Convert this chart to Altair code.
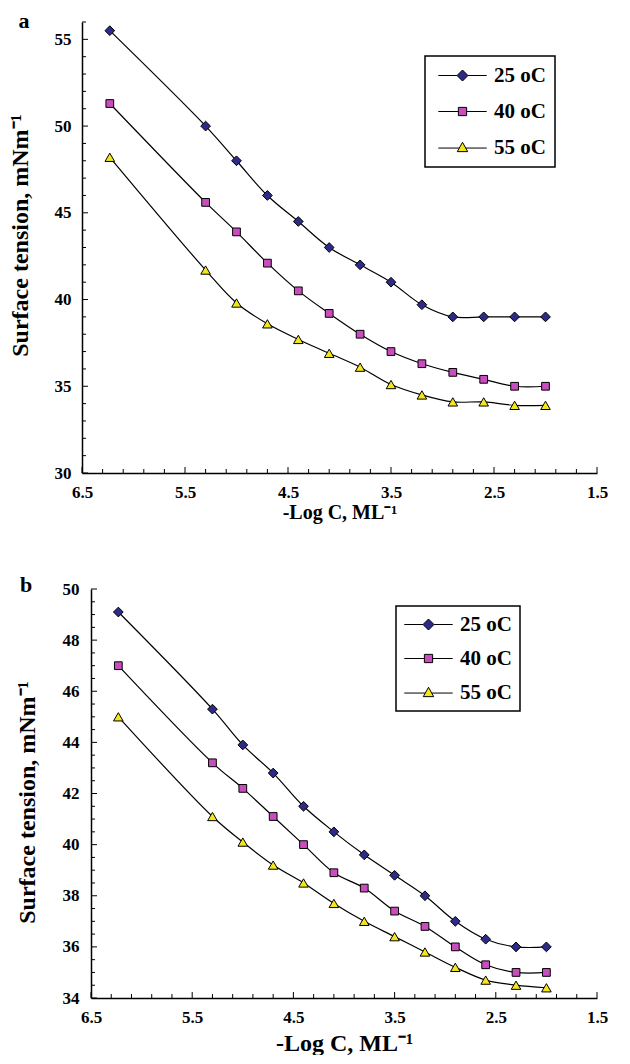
import altair as alt
import pandas as pd

# ---------------- data ----------------
x_logc = [6.23, 5.3, 5.0, 4.7, 4.4, 4.1, 3.8, 3.5, 3.2, 2.9, 2.6, 2.3, 2.0]
series_names = ["25 oC", "40 oC", "55 oC"]

a_25 = [55.5, 50.0, 48.0, 46.0, 44.5, 43.0, 42.0, 41.0, 39.7, 39.0, 39.0, 39.0, 39.0]
a_40 = [51.3, 45.6, 43.9, 42.1, 40.5, 39.2, 38.0, 37.0, 36.3, 35.8, 35.4, 35.0, 35.0]
a_55 = [48.2, 41.7, 39.8, 38.6, 37.7, 36.9, 36.1, 35.1, 34.5, 34.1, 34.1, 33.9, 33.9]

b_25 = [49.1, 45.3, 43.9, 42.8, 41.5, 40.5, 39.6, 38.8, 38.0, 37.0, 36.3, 36.0, 36.0]
b_40 = [47.0, 43.2, 42.2, 41.1, 40.0, 38.9, 38.3, 37.4, 36.8, 36.0, 35.3, 35.0, 35.0]
b_55 = [45.0, 41.1, 40.1, 39.2, 38.5, 37.7, 37.0, 36.4, 35.8, 35.2, 34.7, 34.5, 34.4]

x_major = [6.5, 5.5, 4.5, 3.5, 2.5, 1.5]
x_minor = [6.3, 6.1, 5.9, 5.7, 5.3, 5.1, 4.9, 4.7, 4.3, 4.1, 3.9, 3.7,
           3.3, 3.1, 2.9, 2.7, 2.3, 2.1, 1.9, 1.7]
a_y_major = [30, 35, 40, 45, 50, 55]
a_y_minor = [31, 32, 33, 34, 36, 37, 38, 39, 41, 42, 43, 44, 46, 47, 48, 49,
             51, 52, 53, 54, 56]
b_y_major = [34, 36, 38, 40, 42, 44, 46, 48, 50]
b_y_minor = [34.5, 35, 35.5, 36.5, 37, 37.5, 38.5, 39, 39.5, 40.5, 41, 41.5,
             42.5, 43, 43.5, 44.5, 45, 45.5, 46.5, 47, 47.5, 48.5, 49, 49.5]

x_title = "-Log C, ML⁻¹"
y_title = "Surface tension, mNm⁻¹"

# ---------------- style ----------------
FONT = "Liberation Serif"
marker_fill = ["#2E2A88", "#C94DBE", "#F4E61C"]
marker_shape = ["diamond", "square", "triangle-up"]
marker_size = [95, 60, 92]
legend_shape = [
    "M-4.4,0H-1M1,0H4.4M0,-1L1,0L0,1L-1,0Z",
    "M-4.4,0H-0.75M0.75,0H4.4M-0.75,-0.75H0.75V0.75H-0.75Z",
    "M-4.4,0.1H-0.59M0.59,0.1H4.4M0,-0.95L0.95,0.75H-0.95Z",
]


def make_panel(letter, series_vals, ydom, ymaj, ymin, P):
    W, H, L = P["W"], P["H"], P["left"]
    rows = []
    for name, vals in zip(series_names, series_vals):
        for xv, yv in zip(x_logc, vals):
            rows.append({"x": xv, "y": yv, "series": name})
    df = pd.DataFrame(rows)

    xsc = alt.Scale(domain=[6.5, 1.5], range=[L, W], nice=False, zero=False)
    ysc = alt.Scale(domain=ydom, nice=False, zero=False)

    xaxis = alt.Axis(values=x_major, format=".1f", ticks=False, grid=False,
                     domainColor="black", domainWidth=1.5,
                     labelFont=FONT, labelFontWeight="bold", labelFontSize=P["tick_fs"],
                     labelColor="black", labelPadding=P["xlabpad"], labelFlush=False,
                     labelOverlap=False, title=x_title, titleFont=FONT,
                     titleFontWeight="bold", titleFontSize=P["xtitle_fs"],
                     titleColor="black", titlePadding=P["xtitlepad"])
    yaxis = alt.Axis(values=ymaj, format="d", ticks=False, grid=False,
                     domainColor="black", domainWidth=1.5, offset=-L,
                     labelFont=FONT, labelFontWeight="bold", labelFontSize=P["tick_fs"],
                     labelColor="black", labelPadding=P["ylabpad"], labelFlush=False,
                     labelOverlap=False, title=y_title, titleFont=FONT,
                     titleFontWeight="bold", titleFontSize=P["ytitle_fs"],
                     titleColor="black", titlePadding=P["ytitlepad"],
                     titleY=P["titleY"])

    X = lambda f: alt.X(f, scale=xsc, axis=xaxis)
    Y = lambda f: alt.Y(f, scale=ysc, axis=yaxis)

    lines = alt.Chart(df).mark_line(color="black", strokeWidth=1.2,
                                    interpolate="catmull-rom").encode(
        x=X("x:Q"), y=Y("y:Q"), detail="series:N")

    def vtick(vals, length):
        return alt.Chart(pd.DataFrame({"v": vals})).mark_rule(
            color="black", strokeWidth=1).encode(
            x=X("v:Q"), y=alt.value(H), y2=alt.value(H - length))

    def htick(vals, length):
        return alt.Chart(pd.DataFrame({"v": vals})).mark_rule(
            color="black", strokeWidth=1).encode(
            y=Y("v:Q"), x=alt.value(L), x2=alt.value(L + length))

    marker_layers = []
    for name, shp, fc, sz in zip(series_names, marker_shape, marker_fill, marker_size):
        marker_layers.append(
            alt.Chart(df).transform_filter(alt.datum.series == name).mark_point(
                shape=shp, fill=fc, stroke="black", strokeWidth=1, size=sz,
                opacity=1, fillOpacity=1, strokeOpacity=1).encode(
                x=X("x:Q"), y=Y("y:Q")))

    leg = alt.Legend(title=None, orient="none", legendX=P["legX"], legendY=P["legY"],
                     strokeColor="black", fillColor="white",
                     padding=P["legpad"], rowPadding=P["rowpad"],
                     symbolSize=121, symbolOffset=P["symoff"], labelOffset=P["laboff"],
                     symbolOpacity=1, symbolStrokeWidth=1,
                     labelFont=FONT, labelFontWeight="bold", labelFontSize=P["leg_fs"],
                     labelColor="black")
    carrier = alt.Chart(df).mark_point(opacity=0, strokeWidth=1).encode(
        x=X("x:Q"), y=Y("y:Q"),
        fill=alt.Fill("series:N", scale=alt.Scale(domain=series_names, range=marker_fill),
                      legend=leg),
        stroke=alt.Stroke("series:N",
                          scale=alt.Scale(domain=series_names, range=["black"] * 3),
                          legend=leg),
        shape=alt.Shape("series:N", scale=alt.Scale(domain=series_names, range=legend_shape),
                        legend=leg),
    )

    label = alt.Chart(pd.DataFrame({"t": [letter]})).mark_text(
        font=FONT, fontWeight="bold", fontSize=P["letter_fs"], color="black",
        align="center", baseline="alphabetic").encode(
        text="t:N", x=alt.value(P["letX"]), y=alt.value(P["letY"]))

    anchor = alt.Chart(pd.DataFrame({"t": [letter]})).mark_rule(
        strokeOpacity=0, strokeWidth=1).encode(
        x=alt.value(P["ancX"]), y=alt.value(P["ancY"]), y2=alt.value(P["ancY2"]))

    ch = alt.layer(
        lines,
        vtick(x_major, 6), vtick(x_minor, 4),
        htick(ymaj, 6), htick(ymin, 4),
        *marker_layers, carrier, label, anchor,
    ).properties(width=W, height=H)
    return ch


Pa = dict(W=515, H=451, left=0, tick_fs=17, xlabpad=11, xtitle_fs=20, xtitlepad=2,
          ylabpad=11, ytitle_fs=24, ytitlepad=22, titleY=213,
          legX=343, legY=34, legpad=9, rowpad=14, symoff=18, laboff=21, leg_fs=21,
          letter_fs=22, letX=-58, letY=6, ancX=-74, ancY=-14, ancY2=518)
Pb = dict(W=515, H=409, left=9, tick_fs=17, xlabpad=11, xtitle_fs=24, xtitlepad=6,
          ylabpad=12, ytitle_fs=24, ytitlepad=23, titleY=213,
          legX=314, legY=17, legpad=8, rowpad=12, symoff=14, laboff=21, leg_fs=21,
          letter_fs=22, letX=-56, letY=3, ancX=-74, ancY=-49, ancY2=0)

panel_a = make_panel("a", [a_25, a_40, a_55], [30, 56], a_y_major, a_y_minor, Pa)
panel_b = make_panel("b", [b_25, b_40, b_55], [34, 50], b_y_major, b_y_minor, Pb)

chart = alt.vconcat(panel_a, panel_b, spacing=0).resolve_scale(
    fill="independent", stroke="independent", shape="independent"
).resolve_legend(
    fill="independent", stroke="independent", shape="independent"
).properties(
    padding={"left": 0, "top": 0, "right": 0, "bottom": 0},
    background="white",
).configure_view(stroke=None).configure_legend(strokeWidth=1.5)

chart.save("out.html", embed_options={"renderer": "svg", "actions": False})
